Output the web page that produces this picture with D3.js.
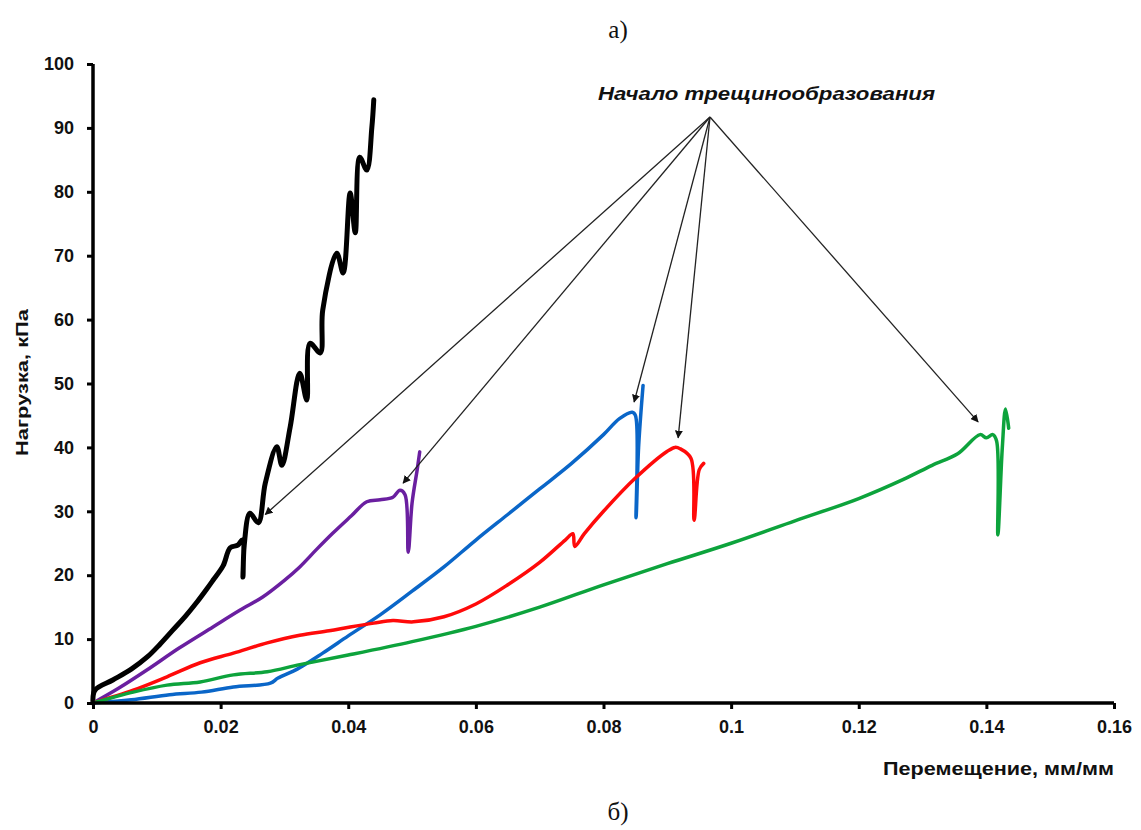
<!DOCTYPE html>
<html>
<head>
<meta charset="utf-8">
<script src="https://cdn.jsdelivr.net/npm/d3@7"></script>
<style>
  body { margin: 0; background: #fff; }
  .tick text { font-family: "Liberation Sans", Arial, sans-serif; font-weight: bold; font-size: 18px; }
</style>
</head>
<body>
<div id="chart"></div>
<script>
// displacement (mm/mm) and load (kPa) for each specimen
const blackX = [0, 0.0003, 0.0031, 0.0060, 0.0085, 0.0105, 0.0125, 0.0145, 0.0163, 0.0178, 0.0188, 0.0204, 0.0215, 0.0227, 0.0234, 0.0235, 0.0237, 0.0246, 0.0259, 0.0270, 0.0288, 0.0296, 0.0309, 0.0324, 0.0335, 0.0340, 0.0356, 0.0360, 0.0382, 0.0392, 0.0403, 0.0411, 0.0418, 0.0429, 0.0437, 0.0440];
const blackY = [0, 2.0, 3.6, 5.3, 7.2, 9.2, 11.4, 13.6, 15.8, 17.8, 19.2, 21.5, 24.3, 24.7, 25.5, 19.7, 24.7, 29.7, 28.2, 34.4, 40.1, 37.2, 43.2, 51.6, 47.4, 56.3, 54.8, 61.5, 70.4, 67.3, 79.8, 73.6, 85.4, 83.4, 90.1, 94.4];

const purpleX = [0, 0.0040, 0.0085, 0.0135, 0.0188, 0.0230, 0.0266, 0.0300, 0.0324, 0.0350, 0.0376, 0.0405, 0.0429, 0.0450, 0.0470, 0.0481, 0.0489, 0.0494, 0.0500, 0.0508, 0.0512];
const purpleY = [0, 2.3, 5.2, 8.6, 11.9, 14.5, 16.6, 19.2, 21.3, 24.0, 26.6, 29.3, 31.5, 31.8, 32.2, 33.3, 32.6, 23.6, 31.3, 36.5, 39.3];

const blueX = [0, 0.006, 0.012, 0.017, 0.022, 0.0278, 0.029, 0.032, 0.036, 0.040, 0.045, 0.050, 0.055, 0.060, 0.065, 0.070, 0.075, 0.080, 0.0825, 0.0845, 0.0850, 0.0851, 0.0855, 0.0862];
const blueY = [0, 0.5, 1.3, 1.7, 2.5, 3.1, 3.9, 5.3, 7.8, 10.5, 13.8, 17.5, 21.3, 25.5, 29.5, 33.5, 37.5, 42.0, 44.5, 45.5, 45.0, 29.0, 40.0, 49.7];

const redX = [0, 0.0063, 0.0116, 0.0168, 0.022, 0.0273, 0.0324, 0.037, 0.0403, 0.044, 0.047, 0.0502, 0.055, 0.060, 0.065, 0.070, 0.074, 0.0752, 0.0755, 0.077, 0.080, 0.085, 0.090, 0.0912, 0.092, 0.0937, 0.0942, 0.0950, 0.0957];
const redY = [0, 2.0, 4.1, 6.3, 7.8, 9.4, 10.6, 11.3, 11.9, 12.5, 12.9, 12.7, 13.5, 15.5, 18.5, 22.0, 25.5, 26.5, 24.5, 26.5, 30.0, 35.2, 39.4, 40.0, 39.8, 38.3, 28.6, 36.5, 37.5];

const greenX = [0, 0.0063, 0.0116, 0.0168, 0.022, 0.0273, 0.0324, 0.040, 0.050, 0.060, 0.070, 0.080, 0.090, 0.100, 0.110, 0.120, 0.1270, 0.1315, 0.1355, 0.1390, 0.1400, 0.1410, 0.1416, 0.1418, 0.1425, 0.1430, 0.1435];
const greenY = [0, 1.7, 2.8, 3.3, 4.4, 4.9, 6.0, 7.5, 9.6, 12.0, 15.0, 18.5, 21.8, 25.0, 28.5, 32.0, 35.0, 37.2, 39.0, 42.0, 41.5, 42.0, 41.0, 26.3, 40.0, 46.0, 43.0];

// crack initiation markers
const crackX = [0.0270, 0.0486, 0.0848, 0.0917, 0.1387];
const crackY = [29.5, 34.4, 47.1, 41.5, 44.0];

const xTicks = [0, 0.02, 0.04, 0.06, 0.08, 0.1, 0.12, 0.14, 0.16];
const yTicks = [0, 10, 20, 30, 40, 50, 60, 70, 80, 90, 100];

const series = [
  {name: "black", x: blackX, y: blackY, color: "#000000", w: 5},
  {name: "purple", x: purpleX, y: purpleY, color: "#6a1fa0", w: 3.5},
  {name: "blue", x: blueX, y: blueY, color: "#0a66c8", w: 3.5},
  {name: "red", x: redX, y: redY, color: "#ff0a0a", w: 3.5},
  {name: "green", x: greenX, y: greenY, color: "#0da33c", w: 3.5}
];

const W = 1141, H = 830;
const margin = {top: 64, right: 27, bottom: 127, left: 93};
const width = W - margin.left - margin.right;
const height = H - margin.top - margin.bottom;
const font = "Liberation Sans, Arial, sans-serif";

const svg = d3.select("#chart").append("svg")
  .attr("width", W)
  .attr("height", H);

const g = svg.append("g")
  .attr("transform", "translate(" + margin.left + "," + margin.top + ")");

const x = d3.scaleLinear().domain([0, 0.16]).range([0, width]);
const y = d3.scaleLinear().domain([0, 100]).range([height, 0]);

// arrowhead
svg.append("defs").append("marker")
  .attr("id", "arrow")
  .attr("viewBox", "0 0 10 10")
  .attr("refX", 9).attr("refY", 5)
  .attr("markerWidth", 8).attr("markerHeight", 8)
  .attr("markerUnits", "userSpaceOnUse")
  .attr("orient", "auto")
  .append("path")
  .attr("d", "M0,0L10,5L0,10z")
  .attr("fill", "#111");

// data lines
const line = d3.line()
  .curve(d3.curveCatmullRom.alpha(0.5))
  .x(d => x(d[0]))
  .y(d => y(d[1]));

series.forEach(s => {
  g.append("path")
    .datum(s.x.map((v, i) => [v, s.y[i]]))
    .attr("fill", "none")
    .attr("stroke", s.color)
    .attr("stroke-width", s.w)
    .attr("stroke-linejoin", "round")
    .attr("stroke-linecap", "round")
    .attr("d", line);
});

// axes
const xAxis = d3.axisBottom(x).tickValues(xTicks).tickSize(6).tickPadding(11)
  .tickFormat(d => d === 0 ? "0" : String(+d.toFixed(2)));
const yAxis = d3.axisLeft(y).tickValues(yTicks).tickSize(6).tickPadding(13);

const gx = g.append("g").attr("transform", "translate(0," + height + ")").call(xAxis);
const gy = g.append("g").call(yAxis);

[gx, gy].forEach(a => {
  a.select(".domain").attr("stroke-width", 3.5);
  a.selectAll(".tick line").attr("stroke-width", 3);
  a.selectAll(".tick text").attr("fill", "#111");
});
gy.select(".domain").attr("d", "M0," + height + "V0");
gx.select(".domain").attr("d", "M0,0H" + width);

// annotation lines
const origin = [710 - margin.left, 117 - margin.top];
g.selectAll(".crack")
  .data(crackX.map((v, i) => [v, crackY[i]]))
  .enter().append("line")
  .attr("class", "crack")
  .attr("x1", origin[0]).attr("y1", origin[1])
  .attr("x2", d => x(d[0])).attr("y2", d => y(d[1]))
  .attr("stroke", "#222")
  .attr("stroke-width", 1.3)
  .attr("marker-end", "url(#arrow)");

svg.append("text")
  .attr("x", 598).attr("y", 100)
  .attr("font-family", font)
  .attr("font-weight", "bold")
  .attr("font-style", "italic")
  .attr("font-size", 18)
  .attr("textLength", 337)
  .attr("lengthAdjust", "spacingAndGlyphs")
  .attr("fill", "#111")
  .text("Начало трещинообразования");

// axis titles
svg.append("text")
  .attr("transform", "translate(28,383) rotate(-90)")
  .attr("x", -73)
  .attr("font-family", font)
  .attr("font-weight", "bold")
  .attr("font-size", 16)
  .attr("textLength", 147)
  .attr("lengthAdjust", "spacingAndGlyphs")
  .attr("fill", "#111")
  .text("Нагрузка, кПа");

svg.append("text")
  .attr("x", 883).attr("y", 775)
  .attr("font-family", font)
  .attr("font-weight", "bold")
  .attr("font-size", 18)
  .attr("textLength", 231)
  .attr("lengthAdjust", "spacingAndGlyphs")
  .attr("fill", "#111")
  .text("Перемещение, мм/мм");

// panel captions
svg.append("text")
  .attr("x", 618).attr("y", 38)
  .attr("text-anchor", "middle")
  .attr("font-family", "Liberation Serif, Times New Roman, serif")
  .attr("font-size", 25)
  .attr("fill", "#111")
  .text("а)");

svg.append("text")
  .attr("x", 618).attr("y", 820)
  .attr("text-anchor", "middle")
  .attr("font-family", "Liberation Serif, Times New Roman, serif")
  .attr("font-size", 25)
  .attr("fill", "#111")
  .text("б)");
</script>
</body>
</html>
